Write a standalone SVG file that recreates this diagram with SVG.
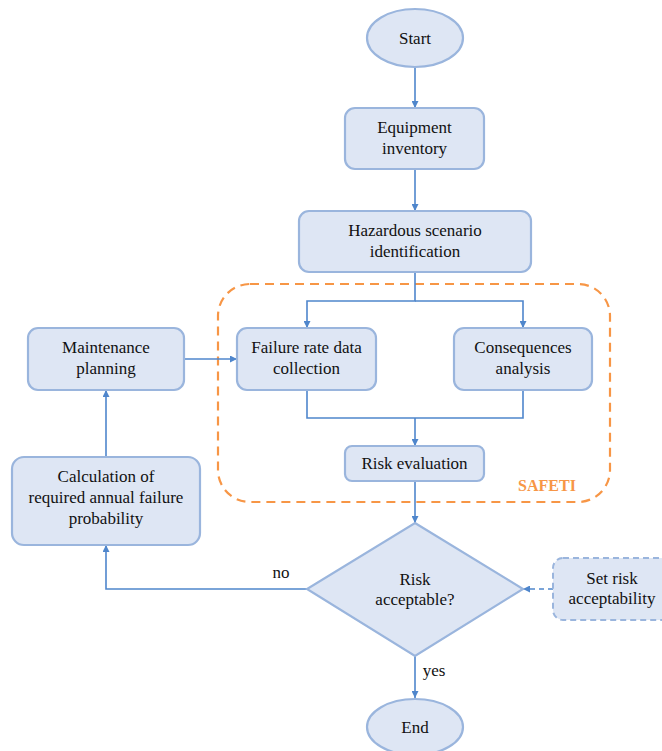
<svg xmlns="http://www.w3.org/2000/svg" width="662" height="751" viewBox="0 0 662 751">
<defs>
<marker id="a" viewBox="0 0 10 10" refX="10" refY="5" markerWidth="7" markerHeight="7" markerUnits="userSpaceOnUse" orient="auto">
<path d="M0,0 L10,5 L0,10 z" fill="#4F86CC"/>
</marker>
</defs>
<rect width="662" height="751" fill="#FFFFFF"/>
<rect x="218" y="284" width="392" height="218" rx="32" fill="none" stroke="#F79646" stroke-width="2.2" stroke-dasharray="9 6"/>
<text x="547" y="491" font-family="Liberation Serif" font-size="16" font-weight="bold" fill="#F79646" text-anchor="middle">SAFETI</text>
<g id="connectors" fill="none" stroke="#4F86CC" stroke-width="1.6">
<path d="M415,67 V108" marker-end="url(#a)"/>
<path d="M415,169 V211" marker-end="url(#a)"/>
<path d="M415,272 V301 H307 V328" marker-end="url(#a)"/>
<path d="M415,301 H523 V328" marker-end="url(#a)"/>
<path d="M307,390 V418 H523 V390"/>
<path d="M415,418 V446" marker-end="url(#a)"/>
<path d="M415,481 V523" marker-end="url(#a)"/>
<path d="M415,656 V698" marker-end="url(#a)"/>
<path d="M307,589 H106 V545" marker-end="url(#a)"/>
<path d="M106,457 V390" marker-end="url(#a)"/>
<path d="M184,359 H237" marker-end="url(#a)"/>
<path d="M553,589 H523" stroke-dasharray="5 4" marker-end="url(#a)"/>
</g>
<text font-family="Liberation Serif" font-size="17" fill="#111111" text-anchor="middle" x="281" y="578">no</text>
<text font-family="Liberation Serif" font-size="17" fill="#111111" text-anchor="middle" x="434" y="676">yes</text>
<g fill="#DEE6F4" stroke="#9AB5DD" stroke-width="2.2">
<ellipse cx="415" cy="38" rx="48" ry="29"/>
<rect x="345" y="108" width="139" height="61" rx="10"/>
<rect x="299" y="211" width="232" height="61" rx="10"/>
<rect x="237" y="328" width="139" height="62" rx="10"/>
<rect x="454" y="328" width="138" height="62" rx="10"/>
<rect x="345" y="446" width="139" height="35" rx="7"/>
<path d="M415,523 L523,589 L415,656 L307,589 Z"/>
<rect x="553" y="558" width="120" height="62" rx="10" stroke-dasharray="6 4" stroke-width="2"/>
<ellipse cx="415" cy="727" rx="48" ry="28"/>
<rect x="28" y="328" width="156" height="62" rx="10"/>
<rect x="12" y="457" width="188" height="88" rx="12"/>
</g>
<g id="start"><text font-family="Liberation Serif" font-size="17" fill="#111111" text-anchor="middle" x="415" y="44">Start</text></g>
<g id="equipment"><text font-family="Liberation Serif" font-size="17" fill="#111111" text-anchor="middle" x="414.5" y="133">Equipment</text><text font-family="Liberation Serif" font-size="17" fill="#111111" text-anchor="middle" x="414.5" y="154">inventory</text></g>
<g id="hazard"><text font-family="Liberation Serif" font-size="17" fill="#111111" text-anchor="middle" x="415" y="236">Hazardous scenario</text><text font-family="Liberation Serif" font-size="17" fill="#111111" text-anchor="middle" x="415" y="257">identification</text></g>
<g id="failure"><text font-family="Liberation Serif" font-size="17" fill="#111111" text-anchor="middle" x="306.5" y="353">Failure rate data</text><text font-family="Liberation Serif" font-size="17" fill="#111111" text-anchor="middle" x="306.5" y="374">collection</text></g>
<g id="consequences"><text font-family="Liberation Serif" font-size="17" fill="#111111" text-anchor="middle" x="523" y="353">Consequences</text><text font-family="Liberation Serif" font-size="17" fill="#111111" text-anchor="middle" x="523" y="374">analysis</text></g>
<g id="riskeval"><text font-family="Liberation Serif" font-size="17" fill="#111111" text-anchor="middle" x="414.5" y="469">Risk evaluation</text></g>
<g id="decision"><text font-family="Liberation Serif" font-size="17" fill="#111111" text-anchor="middle" x="415" y="585">Risk</text><text font-family="Liberation Serif" font-size="17" fill="#111111" text-anchor="middle" x="415" y="605">acceptable?</text></g>
<g id="setrisk"><text font-family="Liberation Serif" font-size="17" fill="#111111" text-anchor="middle" x="612" y="584">Set risk</text><text font-family="Liberation Serif" font-size="17" fill="#111111" text-anchor="middle" x="612" y="604">acceptability</text></g>
<g id="end"><text font-family="Liberation Serif" font-size="17" fill="#111111" text-anchor="middle" x="415" y="733">End</text></g>
<g id="maintenance"><text font-family="Liberation Serif" font-size="17" fill="#111111" text-anchor="middle" x="106" y="353">Maintenance</text><text font-family="Liberation Serif" font-size="17" fill="#111111" text-anchor="middle" x="106" y="374">planning</text></g>
<g id="calc"><text font-family="Liberation Serif" font-size="17" fill="#111111" text-anchor="middle" x="106" y="482">Calculation of</text><text font-family="Liberation Serif" font-size="17" fill="#111111" text-anchor="middle" x="106" y="503">required annual failure</text><text font-family="Liberation Serif" font-size="17" fill="#111111" text-anchor="middle" x="106" y="524">probability</text></g>
</svg>
